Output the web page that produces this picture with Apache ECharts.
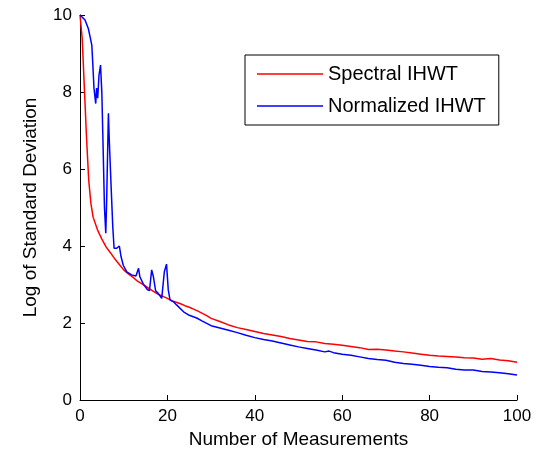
<!DOCTYPE html>
<html>
<head>
<meta charset="utf-8">
<script src="https://cdn.jsdelivr.net/npm/echarts@6/dist/echarts.min.js"></script>
<style>html,body{margin:0;padding:0;background:#fff}#c{width:538px;height:456px}</style>
</head>
<body>
<div id="c"></div>
<script>
const seriesNames = ['Spectral IHWT', 'Normalized IHWT'];
const xTicks = [0, 20, 40, 60, 80, 100];
const yTicks = [0, 2, 4, 6, 8, 10];

const spectralX = [0,0.5,1,1.5,2,2.5,3,4,5,6,7,8,9,10,11,12,13,14,15,16,17,18,19,20,21,22,23,24,25,26,27,28,29,30,32,34,36,38,40,42,44,46,48,50,52,54,56,58,60,62,64,66,68,70,72,74,76,78,80,82,84,86,88,90,92,94,96,98,100];
const spectralY = [10,9.4,8.1,6.8,5.7,5.1,4.75,4.42,4.18,3.97,3.82,3.66,3.52,3.38,3.28,3.2,3.1,3.03,2.96,2.88,2.81,2.74,2.69,2.64,2.58,2.54,2.5,2.45,2.41,2.36,2.31,2.25,2.19,2.12,2.04,1.95,1.88,1.83,1.78,1.73,1.69,1.65,1.6,1.56,1.52,1.51,1.47,1.45,1.42,1.39,1.36,1.31,1.32,1.3,1.27,1.25,1.22,1.19,1.16,1.14,1.13,1.12,1.1,1.09,1.06,1.08,1.04,1.02,0.98];

const normalizedX = [0,1.15,1.9,2.3,2.7,2.9,3.2,3.6,3.8,4.05,4.35,4.7,5.0,5.3,5.6,5.9,6.1,6.5,6.7,7.1,7.5,7.8,8.4,9.0,9.4,9.9,10.7,11.8,12.8,13.4,13.7,14.5,15.4,15.9,16.4,16.8,17.3,17.9,18.7,19.3,19.8,20.2,20.6,21.4,22.1,23.7,25,26.7,28,30,32,34,36,38,40,42,44,46,48,50,52,54,56,57,58,60,62,64,66,68,70,72,74,76,78,80,82,84,85,86,88,90,92,94,96,98,100];
const normalizedY = [10,9.87,9.65,9.44,9.22,8.79,8.1,7.7,8.1,7.84,8.44,8.7,7.97,6.5,5.0,4.33,5.19,7.45,6.75,5.6,4.5,3.94,3.94,4.0,3.72,3.5,3.33,3.25,3.22,3.42,3.2,3.01,2.87,2.84,3.38,3.2,2.84,2.77,2.64,3.33,3.53,2.86,2.6,2.55,2.47,2.29,2.2,2.13,2.05,1.93,1.87,1.81,1.75,1.68,1.62,1.57,1.53,1.48,1.43,1.38,1.34,1.3,1.25,1.27,1.23,1.19,1.16,1.12,1.08,1.05,1.03,0.98,0.95,0.93,0.9,0.87,0.85,0.84,0.82,0.8,0.78,0.78,0.74,0.73,0.71,0.68,0.65];

const pairs = (xs, ys) => xs.map((x, i) => [x, ys[i]]);
const FONT = 'Liberation Sans, Arial, sans-serif';
const LINE_ICON = 'path://M0 0H66V1.5H0Z';

const chart = echarts.init(document.getElementById('c'), null, {renderer: 'canvas'});
chart.setOption({
  animation: false,
  backgroundColor: '#fff',
  grid: {left: 80, right: 21, top: 15, bottom: 56, containLabel: false},
  legend: {
    orient: 'vertical',
    left: 245, top: 55,
    padding: [9, 13, 9, 12],
    itemGap: 12,
    itemWidth: 66,
    itemHeight: 20,
    borderColor: '#000',
    borderWidth: 1,
    backgroundColor: '#fff',
    icon: LINE_ICON,
    symbolKeepAspect: true,
    data: seriesNames,
    textStyle: {fontFamily: FONT, fontSize: 20, color: '#000'}
  },
  xAxis: {
    type: 'value', min: xTicks[0], max: xTicks[xTicks.length - 1], interval: xTicks[1] - xTicks[0],
    name: 'Number of Measurements', nameLocation: 'middle', nameGap: 30,
    nameTextStyle: {fontFamily: FONT, fontSize: 19, color: '#000'},
    axisLine: {lineStyle: {color: '#000', width: 1}},
    axisTick: {inside: true, length: 5, lineStyle: {color: '#000'}},
    axisLabel: {fontFamily: FONT, fontSize: 17, color: '#000', margin: 8},
    splitLine: {show: false}
  },
  yAxis: {
    type: 'value', min: yTicks[0], max: yTicks[yTicks.length - 1], interval: yTicks[1] - yTicks[0],
    name: 'Log of Standard Deviation', nameLocation: 'middle', nameGap: 40,
    nameTextStyle: {fontFamily: FONT, fontSize: 19, color: '#000'},
    axisLine: {show: true, lineStyle: {color: '#000', width: 1}},
    axisTick: {show: true, inside: true, length: 5, lineStyle: {color: '#000'}},
    axisLabel: {fontFamily: FONT, fontSize: 17, color: '#000', margin: 8},
    splitLine: {show: false}
  },
  series: [
    {name: seriesNames[0], type: 'line', data: pairs(spectralX, spectralY), symbol: 'none', showSymbol: false,
     lineStyle: {color: '#ff0000', width: 1.5}, itemStyle: {color: '#ff0000'}, z: 2},
    {name: seriesNames[1], type: 'line', data: pairs(normalizedX, normalizedY), symbol: 'none', showSymbol: false,
     lineStyle: {color: '#0000ff', width: 1.5}, itemStyle: {color: '#0000ff'}, z: 3}
  ]
});
</script>
</body>
</html>
